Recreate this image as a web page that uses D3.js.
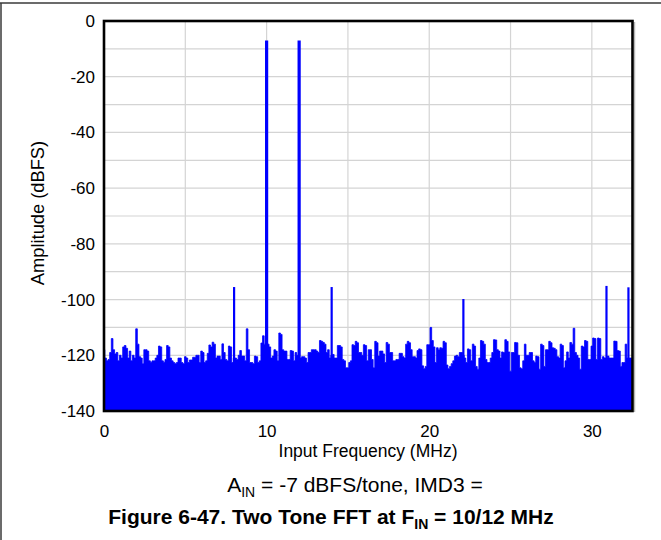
<!DOCTYPE html>
<html><head><meta charset="utf-8">
<script src="https://cdn.jsdelivr.net/npm/d3@7"></script>
<style>html,body{margin:0;padding:0;background:#fff;}svg{display:block;font-family:"Liberation Sans",Arial,sans-serif;}</style>
</head><body>
<svg id="chart" width="661" height="540"></svg>
<script>
// ---- data ----
const xTicks = [0, 10, 20, 30];
const yTicks = [0, -20, -40, -60, -80, -100, -120, -140];
const xGrid = [5, 10, 15, 20, 25, 30];
const yGrid = [-10, -20, -30, -40, -50, -60, -70, -80, -90, -100, -110, -120, -130];
const freqMax = 32.5;
const noiseStep = 0.1; // MHz per noise sample
// noise floor peak envelope (dBFS), one value per 0.1 MHz from 0 to 32.5 MHz
const noiseLevels = [
 -118,-121,-122,-121.5,-119,-114,-118,-119.5,-119,-122,
 -120,-121,-117,-116.5,-117.5,-121,-118.5,-122,-120,-121,
 -110.5,-116,-120.5,-121,-123,-118,-118,-118.5,-122,-122.5,
 -122,-122,-121,-120,-116.7,-117,-122,-122.5,-121.5,-116.5,
 -117,-121,-122,-122.6,-123,-122.6,-121,-121,-122.6,-123,
 -120.5,-121,-122.6,-121.7,-121.7,-120.7,-120.7,-120,-120,-122.6,
 -118.5,-119,-122.6,-122,-119.3,-116.3,-117,-115.3,-116,-121,
 -120.3,-120.3,-121.5,-115.9,-119,-121.5,-122,-116.7,-117,-122.6,
 -121,-121,-121.5,-120,-118.3,-120.3,-120.3,-122,-110.5,-118,
 -122.6,-122.6,-123,-120.3,-120.5,-122.6,-122,-115.6,-113,-116,
 -116,-116,-117,-121,-120.3,-118,-118.5,-122,-112,-112.5,
 -118,-118.5,-118.5,-121.5,-121.5,-118.3,-118.5,-122,-119,-120,
 -121,-121,-120.5,-120.5,-121,-122.6,-119,-119,-118,-118,
 -118,-118.5,-119,-114.7,-115,-115.4,-116,-119,-118,-121,
 -120,-119.7,-121,-121,-116.5,-116.5,-117,-121.5,-122,-124.5,
 -124.5,-122.6,-122,-116.2,-116.5,-115,-115.5,-119,-119,-120,
 -116.2,-116.5,-122,-118,-118,-121.5,-124.5,-115,-115.5,-120.3,
 -118.5,-118.5,-119.5,-122.6,-115.4,-116,-119,-119,-122,-122,
 -121.5,-121.5,-119.3,-119.3,-120.5,-121,-116,-115,-115.5,-118,
 -120.5,-120.5,-121,-118.3,-117.7,-118,-123.8,-124.8,-124,-116.2,
 -116.2,-110,-114.7,-117,-122.6,-117.3,-118,-117.3,-117.5,-115,
 -115.5,-123.5,-124.8,-124,-123,-122,-120.3,-120,-120.5,-119,
 -119,-120,-121,-122.6,-117.7,-118,-122,-116,-116.7,-124,
 -125,-121,-114.7,-115,-116,-121.5,-122.6,-122.6,-121,-119,
 -114.4,-114.5,-118,-118.5,-121,-118.8,-119,-114.4,-115,-118.8,
 -125.7,-119,-119,-115.4,-115.5,-120,-124.5,-124.8,-122,-116,
 -120,-120,-119,-119,-122,-122.6,-120.3,-120.5,-125,-116,
 -116.5,-124,-118,-118,-115,-115.5,-117.3,-117.5,-118,-120.5,
 -121,-116,-116.5,-124.5,-122,-118.8,-121,-115.4,-116,-110.3,
 -119,-120,-121,-125,-116.7,-117,-114.7,-115,-121.5,-121.5,
 -116.7,-113.8,-114,-121.5,-113.8,-114,-121.5,-120.5,-121,-121,
 -120.3,-121,-121,-121,-114.9,-115,-118.3,-118.5,-124,-122.6,
 -122.6,-116,-121,-121,-121,-121
];
// discrete tones and spurs
const toneFreqs  = [10, 12];
const toneLevels = [-7, -7];
const spurFreqs  = [8, 14, 22.1, 30.9, 32.25];
const spurLevels = [-95.5, -95.5, -99.8, -95.1, -95.6];

// ---- layout ----
const svg = d3.select("#chart");
const L = 104, R = 632.5, T = 21, B = 411;
const x = d3.scaleLinear().domain([0, freqMax]).range([L, R]);
const y = d3.scaleLinear().domain([0, -140]).range([T, B]);
const blue = "#0000ff";

// outer figure frame (top & left)
svg.append("line").attr("x1", 0).attr("x2", 661).attr("y1", 3).attr("y2", 3)
  .attr("stroke", "#3a3a3a").attr("stroke-width", 1.5);
svg.append("line").attr("x1", 1).attr("x2", 1).attr("y1", 3).attr("y2", 540)
  .attr("stroke", "#3a3a3a").attr("stroke-width", 1.5);

// gridlines
svg.append("g").selectAll("line").data(xGrid).join("line")
  .attr("x1", d => x(d)).attr("x2", d => x(d)).attr("y1", T).attr("y2", B)
  .attr("stroke", "#d4d4d4").attr("stroke-width", 1.2);
svg.append("g").selectAll("line").data(yGrid).join("line")
  .attr("x1", L).attr("x2", R).attr("y1", d => y(d)).attr("y2", d => y(d))
  .attr("stroke", "#d4d4d4").attr("stroke-width", 1.2);

// noise floor
const noise = noiseLevels.map((v, i) => ({f: Math.min(i * noiseStep, freqMax), v}));
const area = d3.area().curve(d3.curveStep)
  .x(d => x(d.f)).y0(y(-140)).y1(d => y(d.v));
svg.append("path").datum(noise).attr("d", area)
  .attr("fill", blue).attr("stroke", blue).attr("stroke-width", 0.8);

// spurs
svg.append("g").selectAll("line").data(spurFreqs.map((f, i) => ({f, v: spurLevels[i]}))).join("line")
  .attr("x1", d => x(d.f)).attr("x2", d => x(d.f))
  .attr("y1", y(-140)).attr("y2", d => y(d.v))
  .attr("stroke", blue).attr("stroke-width", 2.2);
// tones
svg.append("g").selectAll("line").data(toneFreqs.map((f, i) => ({f, v: toneLevels[i]}))).join("line")
  .attr("x1", d => x(d.f)).attr("x2", d => x(d.f))
  .attr("y1", y(-140)).attr("y2", d => y(d.v))
  .attr("stroke", blue).attr("stroke-width", 3.2);

// plot frame
svg.append("line").attr("x1", R + 2.2).attr("x2", R + 2.2).attr("y1", T + 1).attr("y2", B + 1)
  .attr("stroke", "#a8a8a8").attr("stroke-width", 1);
svg.append("rect").attr("x", L).attr("y", T).attr("width", R - L).attr("height", B - T)
  .attr("fill", "none").attr("stroke", "#000").attr("stroke-width", 2.6);

// axes (labels only)
const fmt = d => String(d);
const xAxis = d3.axisBottom(x).tickValues(xTicks).tickSize(0).tickPadding(14).tickFormat(fmt);
const gx = svg.append("g").attr("transform", `translate(0,${B})`).call(xAxis);
const yAxis = d3.axisLeft(y).tickValues(yTicks).tickSize(0).tickPadding(9).tickFormat(fmt);
const gy = svg.append("g").attr("transform", `translate(${L},0)`).call(yAxis);
[gx, gy].forEach(g => {
  g.select(".domain").remove();
  g.selectAll("text").attr("font-family", "Liberation Sans, Arial, sans-serif")
    .attr("font-size", 17).attr("fill", "#000");
});

// axis titles
svg.append("text").attr("x", 368).attr("y", 457).attr("text-anchor", "middle")
  .attr("font-size", 17.5).attr("fill", "#000").text("Input Frequency (MHz)");
svg.append("text").attr("transform", "translate(44,213) rotate(-90)").attr("text-anchor", "middle")
  .attr("font-size", 18.3).attr("fill", "#000").text("Amplitude (dBFS)");

// subtitle
const sub = svg.append("text").attr("x", 355).attr("y", 492).attr("text-anchor", "middle")
  .attr("font-size", 21).attr("fill", "#000");
sub.append("tspan").text("A");
sub.append("tspan").attr("font-size", 14).attr("dy", 5).text("IN");
sub.append("tspan").attr("dy", -5).text(" = -7 dBFS/tone, IMD3 =");

// caption
const cap = svg.append("text").attr("x", 331).attr("y", 524).attr("text-anchor", "middle")
  .attr("font-size", 21).attr("font-weight", "bold").attr("fill", "#000");
cap.append("tspan").text("Figure 6-47. Two Tone FFT at F");
cap.append("tspan").attr("font-size", 14).attr("dy", 5).text("IN");
cap.append("tspan").attr("dy", -5).text(" = 10/12 MHz");
</script>
</body></html>
